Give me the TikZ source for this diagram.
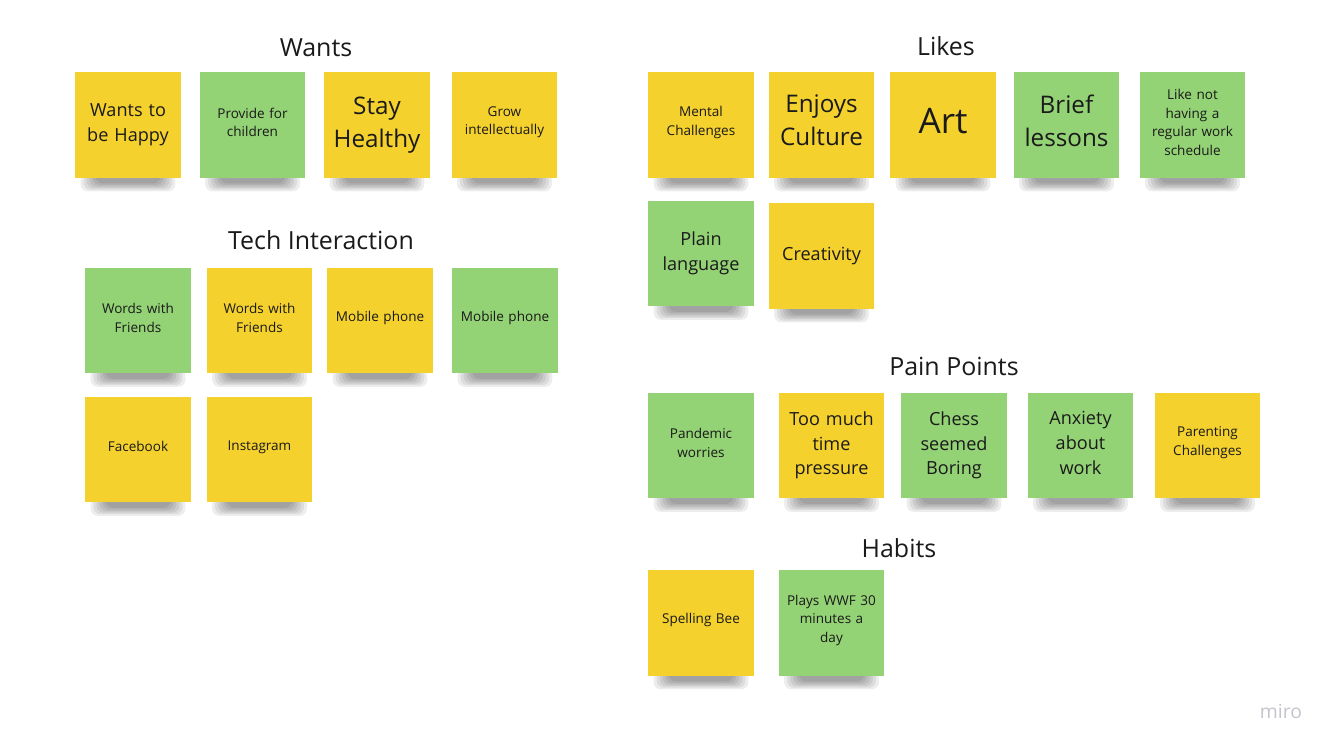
\documentclass[tikz,border=0pt]{standalone}
\usepackage{fontspec}
\setmainfont{Open Sans}
\usepackage{tikz}
\usetikzlibrary{calc, backgrounds}

\definecolor{stickyyellow}{HTML}{F5D12E}
\definecolor{stickygreen}{HTML}{93D275}
\definecolor{inktext}{HTML}{1A1A1A}
\definecolor{logogray}{HTML}{C4C4CE}

\begin{document}
\begin{tikzpicture}[x=0.02cm, y=-0.02cm,
    sticky/.style={minimum width=2.12cm, minimum height=2.12cm, inner sep=2pt,
      text width=1.85cm, align=center, text=inktext},
    yel/.style={sticky, fill=stickyyellow},
    grn/.style={sticky, fill=stickygreen},
    lift/.style={execute at end node={\endgraf\vspace{#1}}},
    small/.style={font=\fontsize{7.7}{10.6}\selectfont, lift=3pt},
    medium/.style={font=\fontsize{10.3}{14}\selectfont},
    large/.style={font=\fontsize{13.8}{18.7}\selectfont},
    huge/.style={font=\fontsize{20}{24}\selectfont, lift=5pt},
    heading/.style={font=\fontsize{14.2}{17}\selectfont, text=inktext}]
  \useasboundingbox (0,0) rectangle (1333,749);

  % === WANTS ===
  \node[heading] (wantsTitle) at (316,48) {Wants};
  \node[yel, medium] (happy) at (128,125) {Wants to\\be Happy};
  \node[grn, small] (provide) at (252.5,125) {Provide for\\children};
  \node[yel, large] (healthy) at (377,125) {Stay\\Healthy};
  \node[yel, small] (grow) at (504.5,125) {Grow\\intellectually};

  % === TECH INTERACTION ===
  \node[heading] (techTitle) at (321,240) {Tech Interaction};
  \node[grn, small] (wordsG) at (138,320.5) {Words with\\Friends};
  \node[yel, small] (wordsY) at (259.5,320.5) {Words with\\Friends};
  \node[yel, small] (mobileY) at (380,320.5) {Mobile phone};
  \node[grn, small] (mobileG) at (505,320.5) {Mobile phone};
  \node[yel, small] (facebook) at (138,449.5) {Facebook};
  \node[yel, small] (instagram) at (259.5,449.5) {Instagram};

  % === LIKES ===
  \node[heading] (likesTitle) at (946,46) {Likes};
  \node[yel, small] (mental) at (701,125) {Mental\\Challenges};
  \node[yel, large, lift=5pt] (culture) at (821.5,125) {Enjoys\\Culture};
  \node[yel, huge] (art) at (943,125) {Art};
  \node[grn, large, lift=5pt] (brief) at (1066.5,125) {Brief\\lessons};
  \node[grn, small] (schedule) at (1192.5,125) {Like not\\having a\\regular work\\schedule};
  \node[grn, medium] (plain) at (701,253.5) {Plain\\language};
  \node[yel, medium] (creativity) at (821.5,256) {Creativity};

  % === PAIN POINTS ===
  \node[heading] (painTitle) at (954,366) {Pain Points};
  \node[grn, small] (pandemic) at (701,445.5) {Pandemic\\worries};
  \node[yel, medium] (pressure) at (831.5,445.5) {Too much\\time\\pressure};
  \node[grn, medium] (chess) at (954,445.5) {Chess\\seemed\\Boring};
  \node[grn, medium, lift=3pt] (anxiety) at (1080.5,445.5) {Anxiety\\about\\work};
  \node[yel, small] (parenting) at (1207.5,445.5) {Parenting\\Challenges};

  % === HABITS ===
  \node[heading] (habitsTitle) at (899,548) {Habits};
  \node[yel, small] (spelling) at (701,623) {Spelling Bee};
  \node[grn, small] (wwf) at (831.5,623) {Plays WWF 30\\minutes a\\day};

  \node[font=\fontsize{11}{13}\selectfont, text=logogray] (logo) at (1281,712) {miro};

  % soft shadows under the notes
  \begin{scope}[on background layer]
    \fill[white] (0,0) rectangle (1333,749);
    \foreach \n in {happy, provide, healthy, grow, wordsG, wordsY, mobileY, mobileG,
        facebook, instagram, mental, culture, art, brief, schedule, plain, creativity,
        pandemic, pressure, chess, anxiety, parenting, spelling, wwf}
      \foreach \k in {0,...,5}
        \fill[black, opacity=0.07, rounded corners=4]
          ($(\n.south west)+(6+3*\k,-6)$) rectangle ($(\n.south east)+(-6-3*\k,13-1.6*\k)$);
  \end{scope}
\end{tikzpicture}
\end{document}
